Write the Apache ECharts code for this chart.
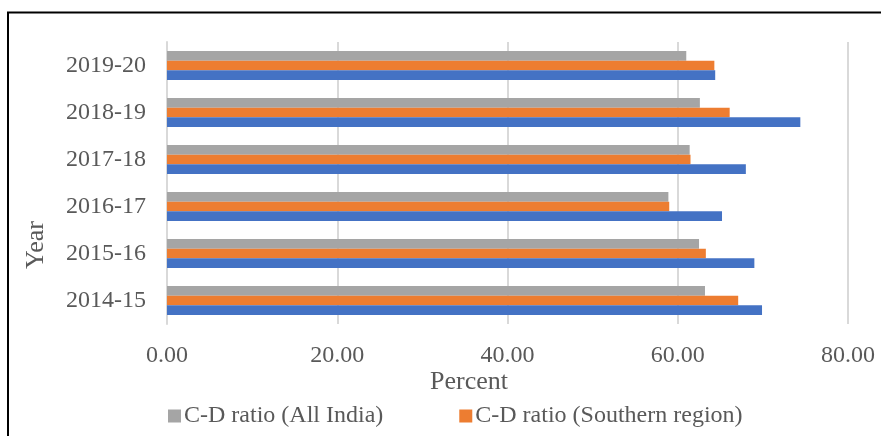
<!DOCTYPE html>
<html>
<head>
<meta charset="utf-8">
<script src="https://cdn.jsdelivr.net/npm/echarts@6/dist/echarts.min.js"></script>
<style>
  html, body { margin: 0; padding: 0; background: #ffffff; }
  #chart { width: 881px; height: 436px; }
</style>
</head>
<body>
<div id="chart"></div>
<script>
// Credit-deposit ratio by year (percent)
const years = ['2014-15', '2015-16', '2016-17', '2017-18', '2018-19', '2019-20'];
const allIndia = [63.2, 62.5, 58.9, 61.4, 62.6, 61.0];
const southern = [67.1, 63.3, 59.0, 61.5, 66.1, 64.3];
const stateRatio = [69.9, 69.0, 65.2, 68.0, 74.4, 64.4];
const xTicks = [0, 20, 40, 60, 80];

const textColor = '#595959';
const fontFamily = '"Liberation Serif", "Times New Roman", serif';

const chart = echarts.init(document.getElementById('chart'), null, { renderer: 'canvas' });

chart.setOption({
  animation: false,
  backgroundColor: '#ffffff',
  textStyle: { fontFamily: fontFamily },
  grid: { left: 167, right: 33, top: 42, height: 282, containLabel: false },
  legend: {
    data: ['C-D ratio (All India)', 'C-D ratio (Southern region)'],
    left: 163,
    top: 399,
    itemWidth: 13,
    itemHeight: 13,
    itemGap: 76,
    icon: 'rect',
    textStyle: { fontFamily: fontFamily, fontSize: 24, color: textColor, padding: [0, 0, 0, -2] }
  },
  xAxis: {
    type: 'value',
    min: xTicks[0],
    max: xTicks[xTicks.length - 1],
    interval: xTicks[1] - xTicks[0],
    axisLine: { show: false },
    axisTick: { show: false },
    splitLine: { show: true, lineStyle: { color: '#d9d9d9', width: 2 } },
    axisLabel: {
      fontFamily: fontFamily, fontSize: 24, color: textColor, margin: 20,
      formatter: v => v.toFixed(2)
    }
  },
  yAxis: {
    type: 'category',
    data: years,
    axisLine: { show: true, lineStyle: { color: '#d9d9d9', width: 2 } },
    axisTick: { show: false },
    axisLabel: { fontFamily: fontFamily, fontSize: 24, color: textColor, margin: 21 }
  },
  graphic: [
    {
      type: 'rect',
      shape: { x: 8, y: 12.5, width: 1000, height: 600 },
      style: { fill: 'none', stroke: '#000000', lineWidth: 2 },
      silent: true
    },
    {
      type: 'text',
      left: 470 - 40,
      top: 369,
      style: { text: 'Percent', fontFamily: fontFamily, fontSize: 26, fill: textColor }
    },
    {
      type: 'text',
      x: 36,
      y: 245,
      rotation: Math.PI / 2,
      style: {
        text: 'Year', fontFamily: fontFamily, fontSize: 26, fill: textColor,
        align: 'center', verticalAlign: 'middle'
      }
    }
  ],
  series: [
    {
      name: 'C-D ratio (All India)', type: 'bar', data: allIndia,
      barWidth: 9.7, barGap: '0%', barCategoryGap: '38%',
      itemStyle: { color: '#a5a5a5' }
    },
    {
      name: 'C-D ratio (Southern region)', type: 'bar', data: southern,
      barWidth: 9.7, barGap: '0%',
      itemStyle: { color: '#ed7d31' }
    },
    {
      name: 'C-D ratio (State)', type: 'bar', data: stateRatio,
      barWidth: 9.7, barGap: '0%',
      itemStyle: { color: '#4472c4' }
    }
  ]
});
</script>
</body>
</html>
